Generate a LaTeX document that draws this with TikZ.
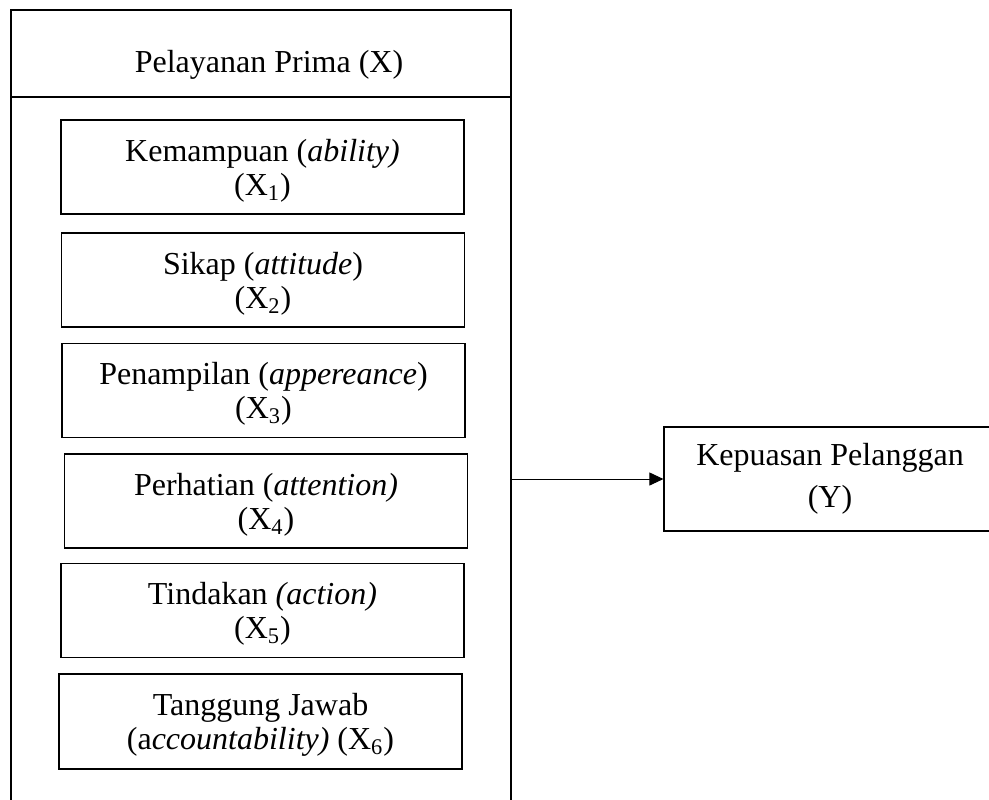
\documentclass[tikz,border=0pt]{standalone}
\usepackage{fontspec}
\setmainfont{Liberation Serif}
\usetikzlibrary{arrows.meta,calc}
\begin{document}
\begin{tikzpicture}[x=0.5pt,y=-0.5pt,
  outerbox/.style={draw,line width=1pt,minimum width=249.75pt,minimum height=411pt,anchor=north,inner sep=0pt},
  inbox/.style={draw,line width=0.6pt,inner sep=0pt,minimum width=201.5pt,minimum height=47pt},
  txt/.style={align=center,font=\fontsize{16}{17}\selectfont,inner sep=0pt},
  conn/.style={line width=0.5pt,-{Triangle[length=7pt,width=6.5pt]}}]
\useasboundingbox (0,0) rectangle (989,799);
\clip (0,0) rectangle (989,799);
% outer container
\node[outerbox] (outer) at (261,8.5) {};
\coordinate (hl) at (0,97);
\draw[line width=0.6pt] (outer.west |- hl) -- (outer.east |- hl);
\node[txt] (head) at (269,65) {Pelayanan Prima (X)};
% inner boxes
\node[inbox] (b1) at (262.5,167) {};
\node[txt] (t1) at ($(b1.center)+(0,3.5)$) {Kemampuan (\textit{ability)}\\(X\textsubscript{1})};
\node[inbox] (b2) at (263,280) {};
\node[txt] (t2) at ($(b2.center)+(0,3.5)$) {Sikap (\textit{attitude})\\(X\textsubscript{2})};
\node[inbox] (b3) at (263.5,390.5) {};
\node[txt] (t3) at ($(b3.center)+(0,3.5)$) {Penampilan (\textit{appereance})\\(X\textsubscript{3})};
\node[inbox] (b4) at (266,501) {};
\node[txt] (t4) at ($(b4.center)+(0,3.5)$) {Perhatian (\textit{attention)}\\(X\textsubscript{4})};
\node[inbox] (b5) at (262.5,610.5) {};
\node[txt] (t5) at ($(b5.center)+(0,3.5)$) {Tindakan \textit{(action)}\\(X\textsubscript{5})};
\node[inbox,minimum height=47.5pt] (b6) at (260.5,721.5) {};
\node[txt] (t6) at ($(b6.center)+(0,3.5)$) {Tanggung Jawab\\(a\textit{ccountability)} (X\textsubscript{6})};
% dependent variable
\node[inbox,minimum width=166pt,minimum height=52pt] (y) at (830,479) {};
\node[txt,font=\fontsize{16}{21}\selectfont] (ty) at (y.center) {Kepuasan Pelanggan\\(Y)};
% connector
\draw[conn] (outer.east |- y.west) -- (y.west);
\end{tikzpicture}
\end{document}
